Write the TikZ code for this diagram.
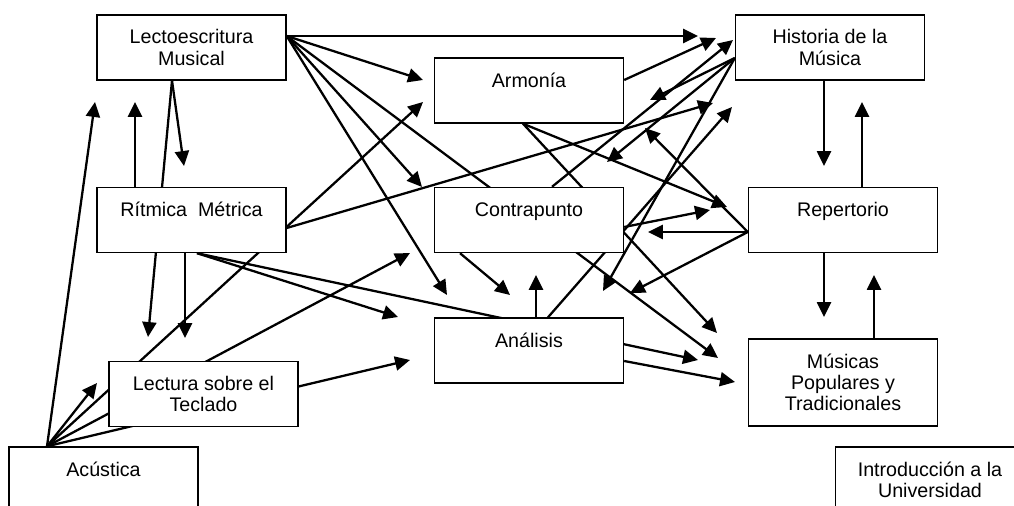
\documentclass[tikz,border=0pt]{standalone}
\usepackage{fontspec}
\setmainfont{Liberation Sans}
\usetikzlibrary{arrows.meta,backgrounds}

\begin{document}
\begin{tikzpicture}[x=0.02cm,y=-0.02cm,
    font=\fontsize{11.2}{12}\selectfont,
    box/.style={draw,line width=0.8pt,fill=white,align=center,
      minimum width=3.78cm,minimum height=1.3cm,inner sep=0pt},
    arr/.style={line width=1.3pt,-{Triangle[length=8.5pt,width=8pt]}}]
  \useasboundingbox (0,0) rectangle (1014,506);
  \clip (0,0) rectangle (1014,506);

  \node[box] (lecto)    at (191.5,47.5) {Lectoescritura\\Musical};
  \node[box] (ritmica)  at (191.5,220)  {Rítmica\ \ Métrica\\~};
  \node[box] (lectura)  at (203.5,394)  {Lectura sobre el\\Teclado};
  \node[box] (acustica) at (103.5,479.5) {Acústica\\~};
  \node[box] (armonia)  at (529,90.5)   {Armonía\\~};
  \node[box] (contra)   at (529,220)    {Contrapunto\\~};
  \node[box] (analisis) at (529,350.5)  {Análisis\\~};
  \node[box] (historia) at (830,47.5)   {Historia de la\\Música};
  \node[box] (repert)   at (843,220)    {Repertorio\\~};
  \node[box,minimum height=1.74cm] (musicas) at (843,382.5)
    {Músicas\\Populares y\\Tradicionales};
  \node[box] (intro)    at (930,479.5)  {Introducción a la\\Universidad};

  % free arrow tips, grouped by the box they point at
  \foreach \n/\x/\y in {lc1/135/102, lc2/95/102, rt1/184/166,
      lt1/148/337, lt2/185/338, lt3/97/383,
      ar1/423/80, ar2/423/102, ar3/650/100, ar4/645/128,
      cp1/422/187, cp2/410/253, cp3/607/162, cp4/648/232, cp5/536/275,
      an1/447/295, an2/398/317, an3/410/360, an4/510/295, an5/603/291, an6/630/293,
      hi1/698/36, hi2/716/38, hi3/733/40, hi4/713/103, hi5/732/107, hi6/862/102,
      re1/727/207, re2/710/210, re3/824/166, re4/874/275,
      mu1/718/358, mu2/698/360, mu3/717/333, mu4/735/382, mu5/824/317}
    \coordinate (\n) at (\x,\y);

  \begin{scope}[on background layer]
  \path[arr] ([shift={(0,-11.5)}]lecto.east)
      edge (hi1) edge (ar1) edge (cp1) edge (an1) edge (mu1);
  \path[arr] ([shift={(-19.5,0)}]lecto.south) edge (rt1) edge (lt1);
  \path[arr] ([shift={(-56.5,0)}]acustica.north)
      edge (lc2) edge (ar2) edge (lt3) edge (cp2) edge (an3);
  \path[arr] ([shift={(-56.5,0)}]ritmica.north) edge (lc1);
  \path[arr] ([shift={(-6.5,0)}]ritmica.south) edge (lt2);
  \path[arr] ([shift={(5.5,0)}]ritmica.south) edge (mu2) edge (an2);
  \path[arr] ([shift={(0,8)}]ritmica.east) edge (hi4);
  \path[arr] ([shift={(0,-10.5)}]armonia.east) edge (hi2);
  \path[arr] ([shift={(-6,0)}]armonia.south) edge (re1) edge (mu3);
  \path[arr] ([shift={(23,0)}]contra.north) edge (hi3);
  \path[arr] ([shift={(0,7)}]contra.east) edge (re2);
  \path[arr] ([shift={(-69,0)}]contra.south) edge (an4);
  \path[arr] ([shift={(7,0)}]analisis.north) edge (cp5);
  \path[arr] ([shift={(19,0)}]analisis.north) edge (hi5);
  \path[arr] ([shift={(0,10.5)}]analisis.east) edge (mu4);
  \path[arr] ([shift={(0,10.5)}]historia.west) edge (ar3) edge (cp3) edge (an5);
  \path[arr] ([shift={(-6,0)}]historia.south) edge (re3);
  \path[arr] ([shift={(0,12)}]repert.west) edge (cp4) edge (an6) edge (ar4);
  \path[arr] ([shift={(19,0)}]repert.north) edge (hi6);
  \path[arr] ([shift={(-19,0)}]repert.south) edge (mu5);
  \path[arr] ([shift={(31,0)}]musicas.north) edge (re4);
  \end{scope}
\end{tikzpicture}
\end{document}
